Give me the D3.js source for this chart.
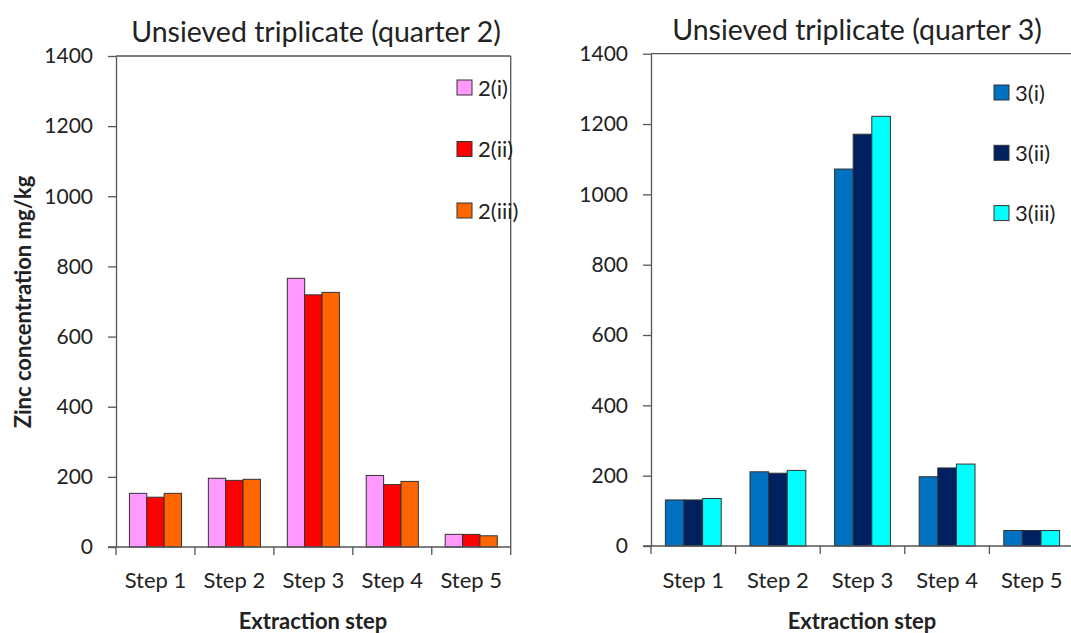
<!DOCTYPE html>
<html><head><meta charset="utf-8">
<script src="https://cdn.jsdelivr.net/npm/d3@7"></script>
<style>
body{margin:0;background:#fff;}
text{font-family:Lato, "Open Sans", sans-serif;fill:#222;}
</style></head>
<body><svg id="c" width="1071" height="633"></svg>
<script>
const categories = ["Step 1","Step 2","Step 3","Step 4","Step 5"];
const yTicks = [0,200,400,600,800,1000,1200,1400];
const q2Series = ["2(i)","2(ii)","2(iii)"];
const q2_i   = [153, 196, 766, 204, 36];
const q2_ii  = [142, 190, 719, 178, 36];
const q2_iii = [153, 193, 726, 187, 32];
const q2Colors = ["#FF99FF","#FF0000","#FF6600"];
const q3Series = ["3(i)","3(ii)","3(iii)"];
const q3_i   = [131, 211, 1072, 197, 44];
const q3_ii  = [131, 207, 1171, 222, 44];
const q3_iii = [135, 215, 1222, 233, 44];
const q3Colors = ["#0070C0","#002060","#00FFFF"];

const svg = d3.select("#c");

function panel(cfg){
  const g = svg.append("g");
  const x = d3.scaleBand().domain(categories).range([cfg.x0, cfg.x1]).paddingInner(0).paddingOuter(0);
  const y = d3.scaleLinear().domain([0,1400]).range([cfg.y0, cfg.y1]);
  const inner = d3.scaleBand().domain(cfg.series).range([x.bandwidth()*0.17, x.bandwidth()*0.83]).padding(0);
  const vals = cfg.values;

  g.append("line").attr("x1",cfg.x0).attr("x2",cfg.x1).attr("y1",y(1400)).attr("y2",y(1400))
    .attr("stroke","#555").attr("stroke-width",1.3);
  if(cfg.drawRight){
    g.append("line").attr("x1",cfg.x1).attr("x2",cfg.x1).attr("y1",y(1400)).attr("y2",y(0))
      .attr("stroke","#555").attr("stroke-width",1.3);
  }

  cfg.series.forEach((s,si)=>{
    g.append("g").selectAll("rect").data(categories).join("rect")
      .attr("x", c=>x(c)+inner(s))
      .attr("width", inner.bandwidth())
      .attr("y", (c,i)=>y(vals[si][i]))
      .attr("height", (c,i)=>y(0)-y(vals[si][i]))
      .attr("fill", cfg.colors[si])
      .attr("stroke","#333").attr("stroke-width",1);
  });

  const ya = g.append("g").attr("transform",`translate(${cfg.x0},0)`)
    .call(d3.axisLeft(y).tickValues(yTicks).tickFormat(d3.format("d")).tickSize(8).tickSizeOuter(0).tickPadding(15));
  ya.select(".domain").attr("stroke","#555").attr("stroke-width",1.3);
  ya.selectAll(".tick line").attr("stroke","#555").attr("stroke-width",1.3);
  ya.selectAll(".tick text").style("font-family","Lato").style("font-size","21px").attr("fill","#222");

  const xa = g.append("g");
  xa.append("line").attr("x1",cfg.x0-8).attr("x2",cfg.x1).attr("y1",y(0)).attr("y2",y(0))
    .attr("stroke","#555").attr("stroke-width",1.3);
  const bounds = categories.map(c=>x(c)).concat([x.range()[1]]);
  xa.selectAll("line.tk").data(bounds).join("line").attr("class","tk")
    .attr("x1",d=>d).attr("x2",d=>d).attr("y1",y(0)).attr("y2",y(0)+8)
    .attr("stroke","#555").attr("stroke-width",1.3);
  xa.selectAll("text").data(categories).join("text")
    .attr("x",c=>x(c)+x.bandwidth()/2).attr("y",588)
    .attr("text-anchor","middle").style("font-size","22px").text(c=>c);

  g.append("text").attr("x",cfg.xTitleX).attr("y",629)
    .attr("text-anchor","middle").style("font-size","22px").style("font-weight","bold").attr("fill","#111")
    .text("Extraction step");

  g.append("text").attr("x",cfg.titleX).attr("y",cfg.titleY).attr("text-anchor","middle")
    .style("font-size","28.5px").attr("fill","#111").text(cfg.title);

  const lg = g.append("g").selectAll("g").data(cfg.series).join("g")
    .attr("transform",(d,i)=>`translate(${cfg.legX},${cfg.legY + i*cfg.legStep})`);
  lg.append("rect").attr("x",0).attr("y",-7.5).attr("width",15).attr("height",15)
    .attr("fill",(d,i)=>cfg.colors[i]).attr("stroke","#333").attr("stroke-width",1);
  lg.append("text").attr("x",21).attr("y",8).style("font-size","22px").text(d=>d);
}

panel({x0:116, x1:510.7, drawRight:true, y0:547, y1:56,
  series:q2Series, values:[q2_i,q2_ii,q2_iii], colors:q2Colors,
  title:"Unsieved triplicate (quarter 2)", titleX:316, titleY:42,
  xTitleX:313,
  legX:457, legY:87.5, legStep:61.5});

panel({x0:651, x1:1074, drawRight:false, y0:546, y1:53.7,
  series:q3Series, values:[q3_i,q3_ii,q3_iii], colors:q3Colors,
  title:"Unsieved triplicate (quarter 3)", titleX:857, titleY:40,
  xTitleX:862,
  legX:994, legY:92.5, legStep:60.3});

svg.append("text").attr("transform","translate(31,302) rotate(-90)")
  .attr("text-anchor","middle").style("font-size","22px").style("font-weight","bold").attr("fill","#111")
  .text("Zinc concentration mg/kg");
</script></body></html>
